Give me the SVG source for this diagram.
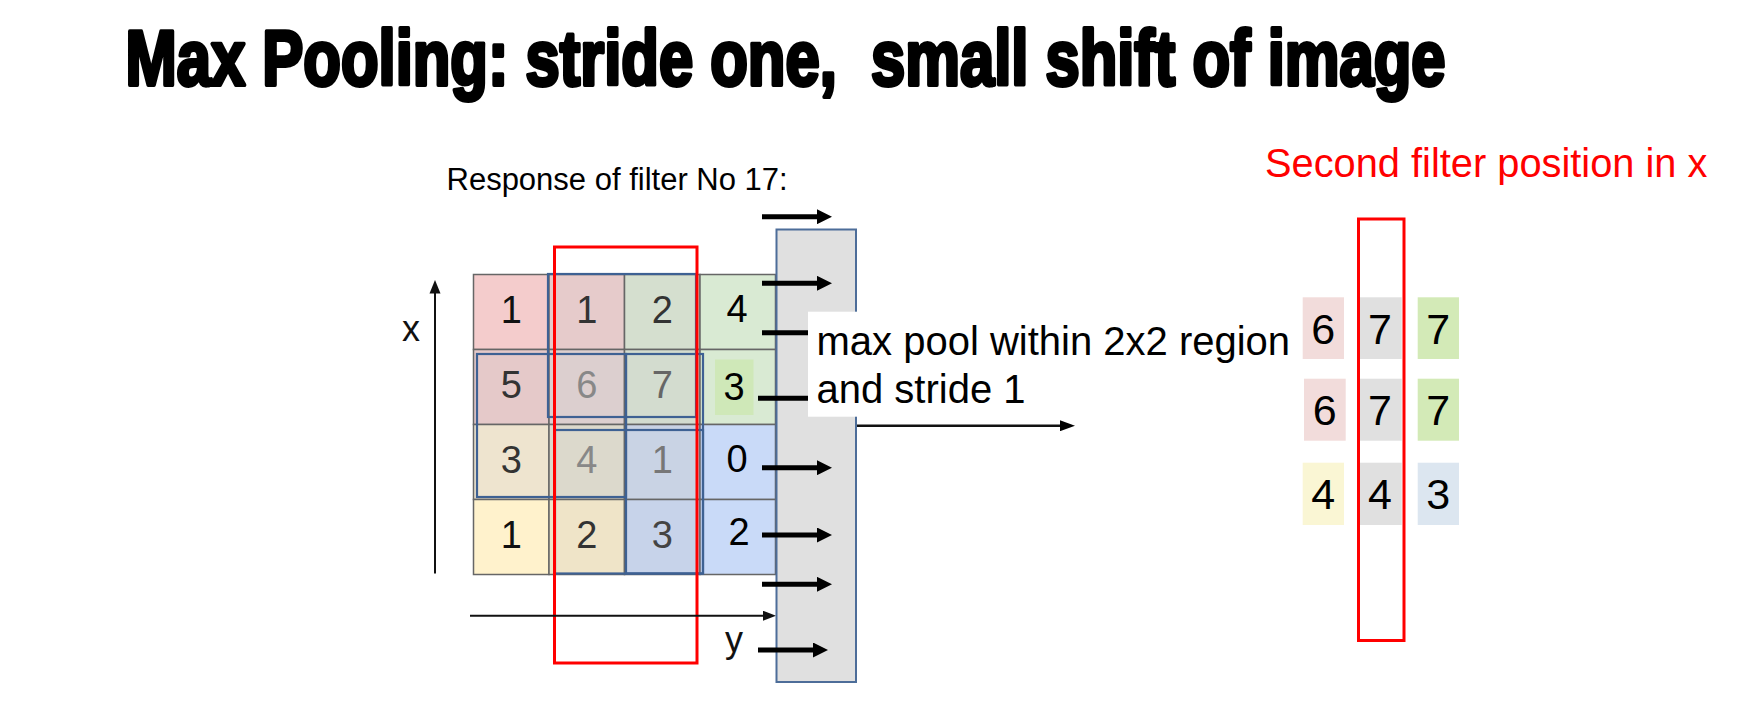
<svg xmlns="http://www.w3.org/2000/svg" width="1757" height="715" viewBox="0 0 1757 715">
<style>
.t{font-family:"Liberation Sans",Arial,sans-serif}
.title{font-family:"Liberation Sans",Arial,sans-serif;font-weight:bold;font-size:77px;fill:#000;stroke:#000;stroke-width:4;stroke-linejoin:round;white-space:pre}
.cell{stroke:#666;stroke-width:1.5}
.ov{fill:none;stroke:#3e6193;stroke-width:2.2}
.d{font-family:"Liberation Sans",Arial,sans-serif;font-size:38px;text-anchor:middle}
.rd{font-family:"Liberation Sans",Arial,sans-serif;font-size:43px;text-anchor:middle;fill:#000}
.thick{stroke:#000;stroke-width:5;fill:none}
.thin{stroke:#111;stroke-width:2;fill:none}
.red{fill:none;stroke:#ff0000;stroke-width:3}
</style>
<defs>
<marker id="hk" markerUnits="userSpaceOnUse" viewBox="0 0 15 15" refX="0" refY="7.5" markerWidth="15" markerHeight="15" orient="auto"><path d="M0,0 L15,7.5 L0,15 z" fill="#000"/></marker>
<marker id="hm" markerUnits="userSpaceOnUse" viewBox="0 0 15 11" refX="0" refY="5.5" markerWidth="15" markerHeight="11" orient="auto"><path d="M0,0 L15,5.5 L0,11 z" fill="#000"/></marker>
<marker id="hs" markerUnits="userSpaceOnUse" viewBox="0 0 13 10" refX="0" refY="5" markerWidth="13" markerHeight="10" orient="auto"><path d="M0,0 L13,5 L0,10 z" fill="#111"/></marker>
</defs>
<rect width="1757" height="715" fill="#fff"/>

<g id="title" transform="translate(125.5,85) scale(0.8,1)"><text class="title" x="0" y="0" textLength="1650" lengthAdjust="spacingAndGlyphs">Max Pooling: stride one,  small shift of image</text></g>

<g id="caption"><text class="t" x="446.5" y="189.5" font-size="31" fill="#000">Response of filter No 17:</text></g>

<g id="grid">
<rect class="cell" x="473.5" y="274.5" width="75.5" height="75" fill="#f4cccc"/>
<rect class="cell" x="549" y="274.5" width="75.5" height="75" fill="#e6cbcb"/>
<rect class="cell" x="624.5" y="274.5" width="75.5" height="75" fill="#d5dfcf"/>
<rect class="cell" x="700" y="274.5" width="75.5" height="75" fill="#d9ead3"/>
<rect class="cell" x="473.5" y="349.5" width="75.5" height="75" fill="#e5c9c9"/>
<rect class="cell" x="549" y="349.5" width="75.5" height="75" fill="#dccfcf"/>
<rect class="cell" x="624.5" y="349.5" width="75.5" height="75" fill="#d3dccf"/>
<rect class="cell" x="700" y="349.5" width="75.5" height="75" fill="#d9ead3"/>
<rect class="cell" x="473.5" y="424.5" width="75.5" height="75" fill="#eee4cf"/>
<rect class="cell" x="549" y="424.5" width="75.5" height="75" fill="#dcd9cc"/>
<rect class="cell" x="624.5" y="424.5" width="75.5" height="75" fill="#c9d3e4"/>
<rect class="cell" x="700" y="424.5" width="75.5" height="75" fill="#c9daf8"/>
<rect class="cell" x="473.5" y="499.5" width="75.5" height="75" fill="#fff2cc"/>
<rect class="cell" x="549" y="499.5" width="75.5" height="75" fill="#efe4c8"/>
<rect class="cell" x="624.5" y="499.5" width="75.5" height="75" fill="#c7d3ea"/>
<rect class="cell" x="700" y="499.5" width="75.5" height="75" fill="#c9daf8"/>
<rect x="715" y="359.5" width="38.5" height="55.5" fill="#cfe8b8"/>
<rect class="ov" x="548" y="274" width="148" height="143"/>
<rect class="ov" x="477" y="354" width="149" height="143"/>
<rect class="ov" x="555" y="430" width="148" height="143.5"/>
<rect class="ov" x="626" y="354" width="77" height="219.5"/>
<text class="d" x="511.25" y="323" fill="#111">1</text>
<text class="d" x="586.75" y="323" fill="#333">1</text>
<text class="d" x="662.25" y="323" fill="#333">2</text>
<text class="d" x="737" y="322" fill="#000">4</text>
<text class="d" x="511.25" y="398" fill="#333">5</text>
<text class="d" x="586.75" y="398" fill="#888">6</text>
<text class="d" x="662.25" y="398" fill="#666">7</text>
<text class="d" x="734" y="400" fill="#000">3</text>
<text class="d" x="511.25" y="473" fill="#333">3</text>
<text class="d" x="586.75" y="473" fill="#888">4</text>
<text class="d" x="662.25" y="473" fill="#777">1</text>
<text class="d" x="737" y="472" fill="#000">0</text>
<text class="d" x="511.25" y="548" fill="#111">1</text>
<text class="d" x="586.75" y="548" fill="#333">2</text>
<text class="d" x="662.25" y="548" fill="#444">3</text>
<text class="d" x="739" y="545" fill="#000">2</text>
<rect class="red" x="554.5" y="247" width="142.5" height="416"/>
</g>

<g id="axes">
<line class="thin" x1="435" y1="573.5" x2="435" y2="293"/>
<path d="M435,280 L440.5,293.5 L429.5,293.5 z" fill="#111"/>
<text class="t" x="411" y="340.5" font-size="36" text-anchor="middle" fill="#111">x</text>
<line class="thin" x1="470" y1="615.7" x2="763" y2="615.7" marker-end="url(#hs)"/>
<text class="t" x="725" y="652" font-size="36" fill="#111">y</text>
</g>

<g id="bar"><rect x="776.5" y="229.5" width="79.5" height="452.5" fill="#e0e0e0" stroke="#4d6d99" stroke-width="2"/></g>

<g id="connectors">
<line class="thick" x1="762" y1="216.7" x2="817" y2="216.7" marker-end="url(#hk)"/>
<line class="thick" x1="762" y1="283.3" x2="817" y2="283.3" marker-end="url(#hk)"/>
<line class="thick" x1="762" y1="332.7" x2="810" y2="332.7"/>
<line class="thick" x1="758" y1="398.3" x2="810" y2="398.3"/>
<line class="thick" x1="762" y1="467.7" x2="817" y2="467.7" marker-end="url(#hk)"/>
<line class="thick" x1="762" y1="535" x2="817" y2="535" marker-end="url(#hk)"/>
<line class="thick" x1="762" y1="584.3" x2="817" y2="584.3" marker-end="url(#hk)"/>
<line class="thick" x1="758" y1="650" x2="813" y2="650" marker-end="url(#hk)"/>
<line x1="857" y1="425.7" x2="1060" y2="425.7" stroke="#111" stroke-width="2.5" marker-end="url(#hm)"/>
</g>

<g id="label-box">
<rect x="808" y="311.7" width="486" height="105" fill="#fff"/>
<text class="t" x="816.5" y="354.5" font-size="40" fill="#000">max pool within 2x2 region</text>
<text class="t" x="816.5" y="402.7" font-size="40" fill="#000">and stride 1</text>
</g>

<g id="result-title"><text class="t" x="1265" y="176.7" font-size="39.8" fill="#ff0000">Second filter position in x</text></g>

<g id="result">
<rect x="1302.7" y="297.3" width="41.3" height="61.7" fill="#f2dcdb"/>
<rect x="1360" y="297.3" width="41.7" height="61.7" fill="#e0e0e0"/>
<rect x="1417.7" y="297.3" width="41.3" height="61.7" fill="#d3eab7"/>
<rect x="1304" y="378.7" width="41.7" height="62" fill="#f2dcdb"/>
<rect x="1360" y="378.7" width="41.7" height="62" fill="#e0e0e0"/>
<rect x="1417.7" y="378.7" width="41.3" height="62" fill="#d3eab7"/>
<rect x="1302.7" y="462.7" width="41.3" height="62.3" fill="#faf6d4"/>
<rect x="1360" y="462.7" width="41.7" height="62.3" fill="#e0e0e0"/>
<rect x="1417.7" y="462.7" width="41.3" height="62.3" fill="#dce6f0"/>
<text class="rd" x="1323.3" y="344">6</text>
<text class="rd" x="1380" y="344">7</text>
<text class="rd" x="1438.3" y="344">7</text>
<text class="rd" x="1324.7" y="425">6</text>
<text class="rd" x="1380" y="425">7</text>
<text class="rd" x="1438.3" y="425">7</text>
<text class="rd" x="1323.3" y="509.3">4</text>
<text class="rd" x="1380" y="509.3">4</text>
<text class="rd" x="1438.3" y="509.3">3</text>
<rect class="red" x="1358.5" y="219" width="45.5" height="421.5"/>
</g>
</svg>
